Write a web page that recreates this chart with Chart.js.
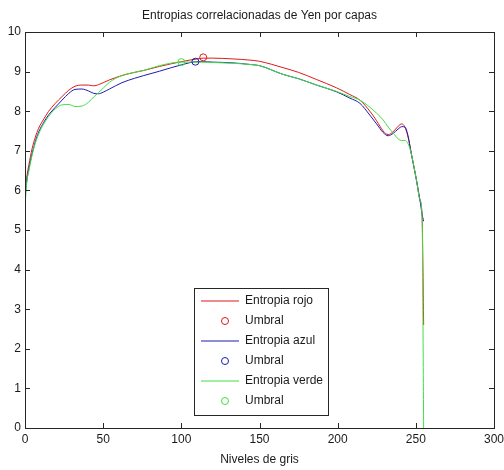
<!DOCTYPE html>
<html>
<head>
<meta charset="utf-8">
<title>Entropias correlacionadas de Yen por capas</title>
<script src="https://cdn.jsdelivr.net/npm/chart.js@4.4.1/dist/chart.umd.min.js"></script>
<style>
    body { margin: 0; background: #fff; }
    #chart-box { width: 504px; height: 470px; }
</style>
</head>
<body>
<div id="chart-box"><canvas id="yen-chart" width="504" height="470"></canvas></div>
<script>
const grayLevels = [0, 1, 2.5, 4.5, 6.5, 8.7, 12, 15, 19.4, 23.7,
    28, 32, 36.4, 40.7, 44, 47, 50, 54, 62, 70,
    76, 86, 100, 110, 114, 120, 133, 144, 150, 165,
    175, 186.5, 199.3, 207.8, 214.2, 220.6, 224.9, 229.1, 232.3, 235.5,
    238.7, 241, 243, 245, 247, 250.4, 252.6, 254, 255];

const entropyRed = [5.9, 6.3, 6.65, 7.05, 7.33, 7.57, 7.8, 7.99, 8.2, 8.37,
    8.53, 8.63, 8.66, 8.66, 8.64, 8.67, 8.72, 8.79, 8.9, 8.98,
    9.03, 9.13, 9.25, 9.32, 9.34, 9.34, 9.32, 9.29, 9.26, 9.1,
    8.98, 8.8, 8.59, 8.42, 8.28, 8.0, 7.76, 7.5, 7.41, 7.48,
    7.62, 7.68, 7.6, 7.35, 6.95, 6.26, 5.76, 5.35, 2.6];

const entropyBlue = [5.8, 6.2, 6.55, 6.92, 7.22, 7.47, 7.72, 7.9, 8.1, 8.28,
    8.45, 8.55, 8.56, 8.51, 8.45, 8.44, 8.48, 8.56, 8.72, 8.83,
    8.9, 9.01, 9.17, 9.25, 9.25, 9.24, 9.22, 9.18, 9.15, 8.93,
    8.82, 8.66, 8.49, 8.33, 8.2, 7.9, 7.68, 7.46, 7.38, 7.44,
    7.55, 7.61, 7.6, 7.38, 6.95, 6.26, 5.76, 5.4, 5.22];

const entropyGreen = [5.55, 6.15, 6.5, 6.88, 7.18, 7.42, 7.68, 7.86, 8.06, 8.16,
    8.17, 8.12, 8.13, 8.23, 8.36, 8.47, 8.58, 8.73, 8.9, 8.98,
    9.03, 9.15, 9.24, 9.24, 9.24, 9.23, 9.21, 9.18, 9.15, 8.93,
    8.82, 8.66, 8.5, 8.37, 8.28, 8.1, 7.95, 7.78, 7.6, 7.45,
    7.3, 7.26, 7.26, 7.18, 6.94, 6.26, 5.76, 5.3, 0];

// Thresholds (umbral) for red, blue, green
const thresholdLevels = [114, 109, 100];
const thresholdValues = [9.36, 9.25, 9.24];

const xTicks = [0, 50, 100, 150, 200, 250, 300];
const yTicks = [0, 1, 2, 3, 4, 5, 6, 7, 8, 9, 10];

const seriesLabels = ['Entropia rojo', 'Entropia azul', 'Entropia verde'];
const thresholdLabel = 'Umbral';
const chartTitle = 'Entropias correlacionadas de Yen por capas';
const xTitle = 'Niveles de gris';

const colors = ['#e01818', '#1c1cb0', '#3ee03e'];
const FONT = "'Liberation Sans', Arial, sans-serif";
const INK = '#1a1a1a';

function toPoints(xs, ys) {
    return xs.map((x, i) => ({ x: x, y: ys[i] }));
}

function lineSet(label, values, color, order) {
    return {
        label: label,
        data: toPoints(grayLevels, values),
        borderColor: color,
        backgroundColor: color,
        borderWidth: 1,
        pointRadius: 0,
        cubicInterpolationMode: 'monotone',
        order: order
    };
}

function thresholdSet(i) {
    return {
        label: thresholdLabel,
        data: [{ x: thresholdLevels[i], y: thresholdValues[i] }],
        showLine: false,
        borderColor: colors[i],
        backgroundColor: 'rgba(0,0,0,0)',
        borderWidth: 1,
        pointRadius: 3.5,
        pointHoverRadius: 3.5,
        order: 0
    };
}

// MATLAB style box, inward ticks, title and legend
const matlabFrame = {
    id: 'matlabFrame',
    afterDraw(chart) {
        const ctx = chart.ctx;
        const area = chart.chartArea;
        const xs = chart.scales.x;
        const ys = chart.scales.y;
        const tick = 5;

        ctx.save();
        ctx.strokeStyle = '#262626';
        ctx.lineWidth = 1;
        ctx.strokeRect(Math.round(area.left) + 0.5, Math.round(area.top) + 0.5,
            Math.round(area.right - area.left), Math.round(area.bottom - area.top));

        ctx.beginPath();
        xTicks.forEach(v => {
            const px = Math.round(xs.getPixelForValue(v)) + 0.5;
            ctx.moveTo(px, area.bottom);
            ctx.lineTo(px, area.bottom - tick);
            ctx.moveTo(px, area.top);
            ctx.lineTo(px, area.top + tick);
        });
        yTicks.forEach(v => {
            const py = Math.round(ys.getPixelForValue(v)) + 0.5;
            ctx.moveTo(area.left, py);
            ctx.lineTo(area.left + tick, py);
            ctx.moveTo(area.right, py);
            ctx.lineTo(area.right - tick, py);
        });
        ctx.stroke();

        // title
        ctx.fillStyle = INK;
        ctx.font = '12px ' + FONT;
        ctx.textAlign = 'center';
        ctx.textBaseline = 'middle';
        ctx.fillText(chartTitle, (area.left + area.right) / 2, 16);

        // legend box
        const box = { left: 194, top: 288, width: 134, height: 127 };
        const rowH = 20;
        ctx.fillStyle = '#fff';
        ctx.fillRect(box.left, box.top, box.width, box.height);
        ctx.strokeStyle = '#262626';
        ctx.strokeRect(box.left + 0.5, box.top + 0.5, box.width, box.height);

        chart.data.datasets.forEach((ds, i) => {
            const cy = box.top + 13 + i * rowH;
            const color = colors[Math.floor(i / 2)];
            ctx.strokeStyle = color;
            ctx.lineWidth = 1.2;
            ctx.beginPath();
            if (ds.showLine === false) {
                ctx.lineWidth = 1;
                ctx.arc(225, cy, 3.5, 0, Math.PI * 2);
            } else {
                ctx.moveTo(201, cy);
                ctx.lineTo(239, cy);
            }
            ctx.stroke();
            ctx.fillStyle = INK;
            ctx.textAlign = 'left';
            ctx.fillText(ds.label, 245, cy);
        });
        ctx.restore();
    }
};

const datasets = [
    lineSet(seriesLabels[0], entropyRed, colors[0], 3),
    thresholdSet(0),
    lineSet(seriesLabels[1], entropyBlue, colors[1], 2),
    thresholdSet(1),
    lineSet(seriesLabels[2], entropyGreen, colors[2], 1),
    thresholdSet(2)
];

const ctx = document.getElementById('yen-chart').getContext('2d');
new Chart(ctx, {
    type: 'line',
    data: { datasets: datasets },
    options: {
        responsive: false,
        animation: false,
        events: [],
        layout: { padding: { top: 32, right: 0, left: 0, bottom: 0 } },
        plugins: {
            legend: { display: false },
            title: { display: false },
            tooltip: { enabled: false }
        },
        scales: {
            x: {
                type: 'linear',
                min: 0,
                max: 300,
                afterFit: scale => {
                    scale.height = 42;
                    scale.paddingLeft = 0;
                    scale.paddingRight = 10;
                },
                afterBuildTicks: scale => { scale.ticks = xTicks.map(v => ({ value: v })); },
                grid: { display: false, drawTicks: false },
                border: { display: false },
                ticks: { padding: 4, color: INK, font: { family: FONT, size: 12 }, maxRotation: 0 },
                title: {
                    display: true,
                    text: xTitle,
                    color: INK,
                    font: { family: FONT, size: 12 },
                    padding: { top: 0, bottom: 3 }
                }
            },
            y: {
                type: 'linear',
                min: 0,
                max: 10,
                afterFit: scale => { scale.width = 25; },
                afterBuildTicks: scale => { scale.ticks = yTicks.map(v => ({ value: v })); },
                grid: { display: false, drawTicks: false },
                border: { display: false },
                ticks: { padding: 4, color: INK, font: { family: FONT, size: 12 } }
            }
        }
    },
    plugins: [matlabFrame]
});
</script>
</body>
</html>
